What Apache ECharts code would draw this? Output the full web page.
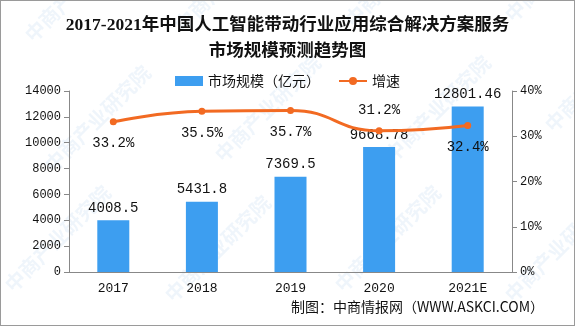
<!DOCTYPE html>
<html>
<head>
<meta charset="utf-8">
<script src="https://cdn.jsdelivr.net/npm/echarts@6/dist/echarts.min.js"></script>
<style>
html,body{margin:0;padding:0;background:#fff;}
#chart{width:575px;height:326px;box-sizing:border-box;border:1px solid #9a9a9a;}
</style>
</head>
<body>
<div id="chart"></div>
<script>
// Market size (100M yuan) and growth rate by year
const years = ['2017', '2018', '2019', '2020', '2021E'];
const marketSize = [4008.5, 5431.8, 7369.5, 9668.78, 12801.46];
const growthRate = [33.2, 35.5, 35.7, 31.2, 32.4];
const sizeTicks = [0, 2000, 4000, 6000, 8000, 10000, 12000, 14000];
const rateTicks = [0, 10, 20, 30, 40];

const mono = '"Liberation Mono", "DejaVu Sans Mono", monospace';
const cjk = '"Noto Sans CJK SC", sans-serif';

const chart = echarts.init(document.getElementById('chart'));

// faint diagonal watermark text
const marks = [];
const spots = [[20, 30], [170, 20], [340, 15], [500, 10], [40, 160], [210, 150], [380, 150], [540, 120], [0, 280], [160, 290], [330, 280], [500, 290]];
spots.forEach(p => {
  marks.push({
    type: 'text', x: p[0], y: p[1], rotation: Math.PI / 4, silent: true, z: 0,
    style: { text: '中商产业研究院', font: 'bold 20px ' + cjk, fill: 'rgba(120,170,220,0.12)' }
  });
});

chart.setOption({
  animation: false,
  backgroundColor: '#fff',
  title: {
    text: '2017-2021年中国人工智能带动行业应用综合解决方案服务\n市场规模预测趋势图',
    left: 'center', top: 6,
    textStyle: { fontFamily: '"Liberation Serif", ' + cjk, fontWeight: 'bold', fontSize: 17.5, lineHeight: 26, color: '#111' }
  },
  legend: {
    top: 68, left: 'center', itemGap: 18, itemWidth: 28, itemHeight: 10,
    textStyle: { fontFamily: cjk, fontSize: 14, color: '#111' },
    data: [
      { name: '市场规模（亿元）', icon: 'rect' },
      { name: '增速' }
    ]
  },
  graphic: marks.concat([{
    type: 'text', right: 30, top: 299,
    style: { text: '制图：中商情报网（WWW.ASKCI.COM）', font: '14px ' + cjk, fill: '#111' }
  }]),
  grid: { left: 68, right: 62, top: 90, bottom: 53 },
  xAxis: {
    type: 'category', data: years,
    axisLine: { lineStyle: { color: '#888' } },
    axisTick: { alignWithLabel: false, lineStyle: { color: '#888' } },
    axisLabel: { fontFamily: mono, fontSize: 13, color: '#111', margin: 10 }
  },
  yAxis: [{
    type: 'value', min: sizeTicks[0], max: sizeTicks[sizeTicks.length - 1], interval: 2000,
    axisLine: { show: true, lineStyle: { color: '#888' } },
    axisTick: { show: true, length: 5, lineStyle: { color: '#888' } },
    splitLine: { show: false },
    axisLabel: { fontFamily: mono, fontSize: 12, color: '#111', margin: 8, formatter: v => String(v) }
  }, {
    type: 'value', min: rateTicks[0], max: rateTicks[rateTicks.length - 1], interval: 10,
    axisLine: { show: true, lineStyle: { color: '#888' } },
    axisTick: { show: true, length: 5, lineStyle: { color: '#888' } },
    splitLine: { show: false },
    axisLabel: { fontFamily: mono, fontSize: 12, color: '#111', margin: 8, formatter: '{value}%' }
  }],
  series: [{
    name: '市场规模（亿元）', type: 'bar', data: marketSize, barWidth: 32,
    itemStyle: { color: '#3d9ef0' },
    label: { show: true, position: 'top', distance: 5, fontFamily: mono, fontSize: 14, color: '#111' },
    z: 2
  }, {
    name: '增速', type: 'line', yAxisIndex: 1, smooth: true,
    data: growthRate.map((v, i) => ({
      value: v,
      label: i === 3 ? { position: 'top', distance: 10 } : { position: 'bottom', distance: 11 }
    })),
    symbol: 'circle', symbolSize: 7,
    lineStyle: { color: '#f26a22', width: 3 },
    itemStyle: { color: '#f26a22' },
    label: { show: true, fontFamily: mono, fontSize: 14, color: '#111', formatter: p => p.value.toFixed(1) + '%' },
    z: 3
  }]
});
</script>
</body>
</html>
